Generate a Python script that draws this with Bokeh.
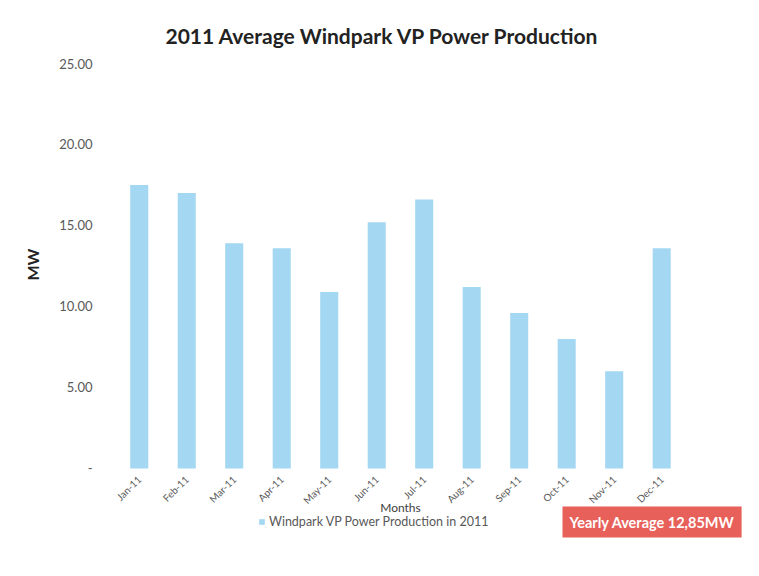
import math
from bokeh.plotting import figure
from bokeh.models import (ColumnDataSource, FixedTicker, CustomJSTickFormatter, Label,
                          Legend, LegendItem, Range1d, Title)
from bokeh.embed import file_html
from bokeh.resources import INLINE

months = ["Jan-11", "Feb-11", "Mar-11", "Apr-11", "May-11", "Jun-11",
          "Jul-11", "Aug-11", "Sep-11", "Oct-11", "Nov-11", "Dec-11"]
production_mw = [17.5, 17.0, 13.9, 13.6, 10.9, 15.2, 16.6, 11.2, 9.6, 8.0, 6.0, 13.6]
y_ticks = [0, 5, 10, 15, 20, 25]
yearly_average_text = "Yearly Average 12,85MW"

month_pos = list(range(len(months)))
src = ColumnDataSource(dict(pos=month_pos, month=months, mw=production_mw))

p = figure(x_range=Range1d(-0.5, 12.87), y_range=Range1d(-4.94, 25), width=751, height=568,
           output_backend="svg", toolbar_location=None,
           min_border_left=115, min_border_right=1, min_border_top=63, min_border_bottom=20)
p.background_fill_color = "white"
p.border_fill_color = "white"
p.outline_line_color = None

p.title.text = "2011 Average Windpark VP Power Production"
p.title.align = "left"
p.title.offset = 50
p.title.text_font = "Lato"
p.title.text_font_size = "21px"
p.title.text_font_style = "bold"
p.title.text_color = "#222222"
p.title.standoff = 31

r = p.vbar(x="pos", top="mw", width=0.38, source=src, fill_color="#a3d7f2", line_color=None)

p.xgrid.grid_line_color = None
p.ygrid.grid_line_color = None

p.yaxis.ticker = FixedTicker(ticks=y_ticks)
p.yaxis.formatter = CustomJSTickFormatter(code="return tick == 0 ? '-' : tick.toFixed(2);")
p.yaxis.axis_line_color = None
p.yaxis.major_tick_line_color = None
p.yaxis.minor_tick_line_color = None
p.yaxis.major_label_standoff = 17
p.yaxis.major_label_text_font = "Lato"
p.yaxis.major_label_text_font_size = "13px"
p.yaxis.major_label_text_color = "#595959"

mw_title = Title(text="MW", align="left", offset=268, standoff=30,
                 text_font="Lato", text_font_size="16px", text_font_style="bold",
                 text_color="#222222")
p.add_layout(mw_title, "left")

p.xaxis.fixed_location = 0
p.xaxis.ticker = FixedTicker(ticks=month_pos)
p.xaxis.major_label_overrides = {i: m for i, m in zip(month_pos, months)}
p.xaxis.axis_line_color = None
p.xaxis.major_tick_line_color = None
p.xaxis.minor_tick_line_color = None
p.xaxis.major_label_orientation = math.pi / 4
p.xaxis.major_label_standoff = 3
p.xaxis.major_label_text_font = "Lato"
p.xaxis.major_label_text_font_size = "10px"
p.xaxis.major_label_text_color = "#595959"

months_label = Label(x=5.5, y=-2.41, text="Months", text_align="center", text_baseline="middle",
                     text_font="Lato", text_font_size="12px", text_color="#404040")
p.add_layout(months_label)

legend = Legend(items=[LegendItem(label="Windpark VP Power Production in 2011", renderers=[r])],
                location=(143, 19), orientation="horizontal",
                label_text_font="Lato", label_text_font_size="12.5px", label_text_color="#595959",
                glyph_width=7, glyph_height=7, background_fill_alpha=0, border_line_color=None,
                padding=0, margin=0, label_standoff=4, label_height=12)
p.add_layout(legend, "center")

avg = Label(x=447, y=11, x_units="screen", y_units="screen", text=yearly_average_text,
            text_font="Lato", text_font_size="14.5px", text_font_style="bold", text_color="white",
            background_fill_color="#e8605a", padding=7)
p.add_layout(avg)

open("out.html", "w").write(file_html(p, INLINE))
